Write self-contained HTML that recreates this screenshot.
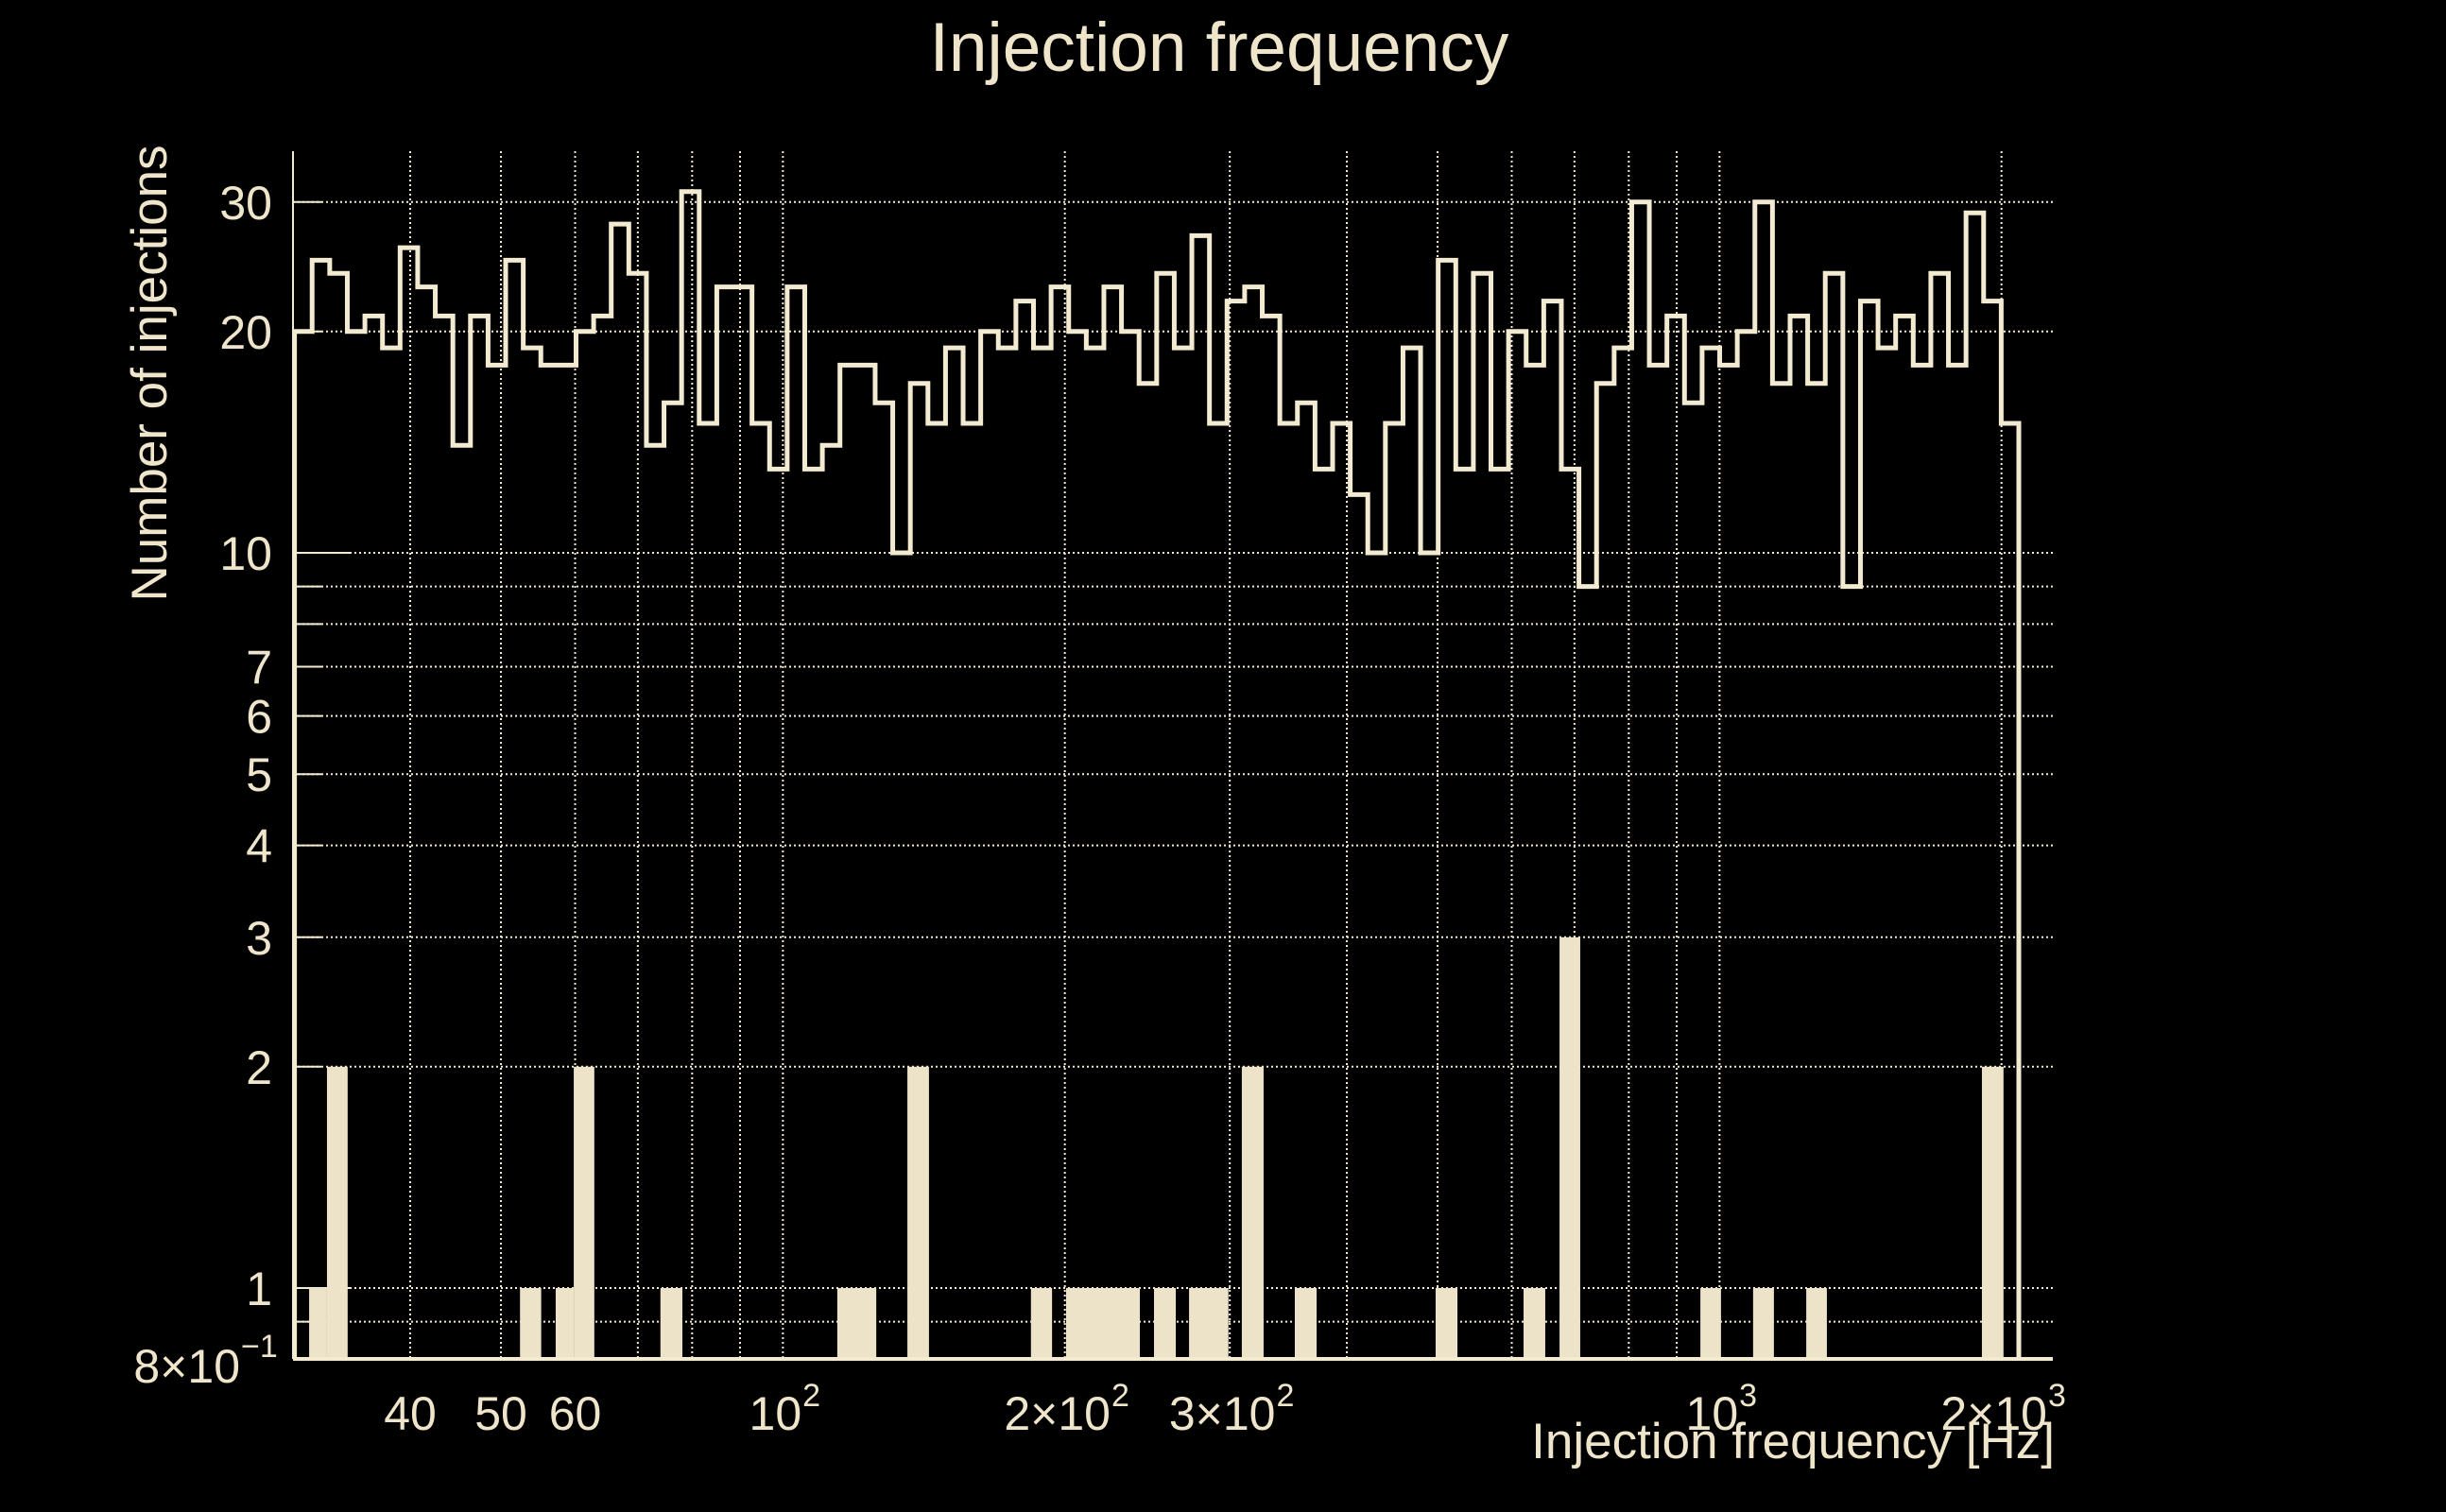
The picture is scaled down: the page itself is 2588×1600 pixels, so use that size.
<!DOCTYPE html>
<html><head><meta charset="utf-8"><style>
html,body{margin:0;padding:0;background:#000;}
svg{display:block;}
text{font-family:"Liberation Sans",sans-serif;fill:#efe5cb;}
</style></head><body>
<svg id="chart" width="2588" height="1600" viewBox="0 0 2588 1600" xmlns="http://www.w3.org/2000/svg">
<rect x="0" y="0" width="2588" height="1600" fill="#000"/>
<text x="1290" y="75" font-size="73" text-anchor="middle">Injection frequency</text>
<text transform="translate(176,395) rotate(-90)" font-size="53" text-anchor="middle">Number of injections</text>
<text x="2174" y="1543" font-size="53" text-anchor="end">Injection frequency [Hz]</text>
<g id="grid"></g><g id="bars"></g><g id="step"></g><g id="axes"></g><g id="labels"></g>
</svg>
<script>
// step histogram (all injections), log-spaced bins
const binLoHz = 30.1;
const binHiHz = 2087;
const stepCounts = [20,25,24,20,21,19,26,23,21,14,21,18,25,19,18,18,20,21,28,24,14,16,31,15,23,23,
15,13,23,13,14,18,18,16,10,17,15,19,15,20,19,22,19,23,20,19,23,20,17,24,
19,27,15,22,23,21,15,16,13,15,12,10,15,19,10,25,13,24,13,20,18,22,13,9,17,
19,30,18,21,16,19,18,20,30,17,21,17,24,9,22,19,21,18,24,18,29,22,15];
// filled bars (subset)
const barLoHz = [31.2,32.6,52.4,57.2,59.8,74.0,114.3,135.8,184,200.6,249,271.4,309,352,497.6,617.7,674.8,954,1086,1237.6,1906];
const barHiHz = [32.6,34.3,55.2,59.8,62.9,78.1,125.8,143.2,193.8,240.5,262.7,299,326,371.4,525,651.5,710,1003.6,1143,1302,2010];
const barCounts = [1,2,1,1,2,1,1,2,1,1,1,1,2,1,1,1,3,1,1,1,2];
// ticks
const xGridHz = [40,50,60,70,80,90,100,200,300,400,500,600,700,800,900,1000,2000];
const xTickHz = [40,50,60,100,200,300,1000,2000];
const xTickMain = ["40","50","60","10","2\u00d710","3\u00d710","10","2\u00d710"];
const xTickSup = ["","","","2","2","2","3","3"];
const yGridVals = [0.9,1,2,3,4,5,6,7,8,9,10,20,30];
const yTickVals = [1,2,3,4,5,6,7,10,20,30];
const yTickText = ["1","2","3","4","5","6","7","10","20","30"];

const X0=310, X1=2172, YT=160, YB=1438;
function xs(f){return 434 + 991*(Math.log10(f)-Math.log10(40));}
function ys(v){return 585 - 778*(Math.log10(v)-1);}
const NS="http://www.w3.org/2000/svg";
function mk(tag,attrs,parent){const e=document.createElementNS(NS,tag);for(const k in attrs)e.setAttribute(k,attrs[k]);parent.appendChild(e);return e;}
const C="#f3ead2";
const grid=document.getElementById('grid');
xGridHz.forEach(f=>{
  const l=mk('line',{x1:xs(f),x2:xs(f),y1:YT,y2:YB,stroke:C,'stroke-width':2,'stroke-dasharray':'2,3'},grid);
  
  
});
yGridVals.forEach(v=>{
  const l=mk('line',{x1:X0,x2:X1,y1:ys(v),y2:ys(v),stroke:C,'stroke-width':2,'stroke-dasharray':'2,3'},grid);
  
  
  const major=(v===10||v===1);
  const tk=mk('line',{x1:X0,x2:X0+(major?62:30),y1:ys(v),y2:ys(v),stroke:C,'stroke-width':2},grid);
  
  
});
const bars=document.getElementById('bars');
barCounts.forEach((c,i)=>{
  const x=xs(barLoHz[i]), w=xs(barHiHz[i])-x, y=ys(c);
  const r=mk('rect',{x:x,y:y,width:w,height:YB-y,fill:"#ede3c8"},bars);
  
  
});
const step=document.getElementById('step');
const n=stepCounts.length, lx0=Math.log10(binLoHz), lx1=Math.log10(binHiHz);
let d="M"+xs(binLoHz)+","+YB;
stepCounts.forEach((c,i)=>{
  const a=xs(Math.pow(10,lx0+(lx1-lx0)*i/n)), b=xs(Math.pow(10,lx0+(lx1-lx0)*(i+1)/n));
  d+=" L"+a+","+ys(c)+" L"+b+","+ys(c);
});
d+=" L"+xs(binHiHz)+","+YB;
const p=mk('path',{d:d,fill:'none',stroke:C,'stroke-width':5,'stroke-linejoin':'miter'},step);


const axes=document.getElementById('axes');
const ya=mk('line',{x1:X0,x2:X0,y1:YT,y2:YB,stroke:C,'stroke-width':2},axes);


const xa=mk('line',{x1:X0,x2:X1,y1:YB,y2:YB,stroke:C,'stroke-width':4},axes);


const labels=document.getElementById('labels');
yTickVals.forEach((v,i)=>{
  const t=mk('text',{x:288,y:ys(v)+18,'font-size':50,'text-anchor':'end'},labels);
  t.textContent=yTickText[i];
  
  
});
const yb=mk('text',{x:254,y:1463,'font-size':50,'text-anchor':'end'},labels);
yb.textContent="8\u00d710";


const ybs=mk('text',{x:255,y:1436,'font-size':34,'text-anchor':'start'},labels);
ybs.textContent="\u22121";


xTickHz.forEach((f,i)=>{
  const cx=xs(f);
  const t=mk('text',{x:cx,y:1513,'font-size':50,'text-anchor':'middle'},labels);
  t.textContent=xTickMain[i];
  
  
  if(xTickSup[i]){
    const w=t.getComputedTextLength();
    const s=mk('text',{x:cx+w/2+1,y:1488,'font-size':34,'text-anchor':'start'},labels);
    s.textContent=xTickSup[i];
    
    
    t.setAttribute('x',cx-8);
    s.setAttribute('x',cx-8+w/2+1);
  }
});
</script>
</body></html>
